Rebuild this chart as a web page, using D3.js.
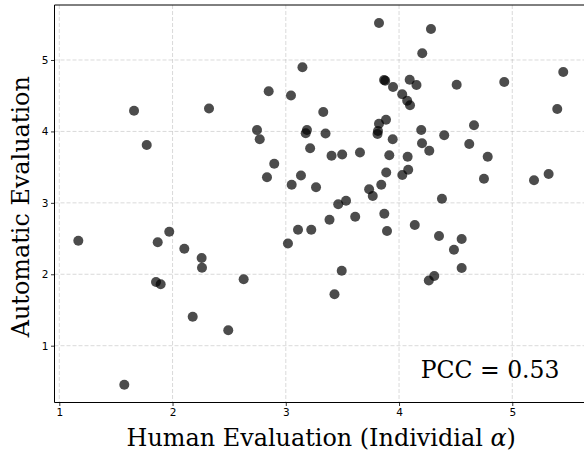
<!DOCTYPE html>
<html><head><meta charset="utf-8">
<script src="https://cdn.jsdelivr.net/npm/d3@7"></script>
<style>body{margin:0;background:#fff}svg{display:block}</style>
</head><body>
<svg id="c" width="584" height="452"></svg>
<script>
const humanEval = [1.66,1.772,2.322,2.849,3.046,2.746,2.77,2.898,2.834,3.052,3.147,3.823,4.282,4.205,5.45,3.868,3.878,4.094,4.154,3.947,4.509,4.929,4.028,4.072,4.097,5.397,3.331,3.885,3.823,3.187,3.176,3.351,3.814,3.81,4.196,4.662,3.944,4.399,3.215,4.203,4.62,4.267,3.404,3.498,3.655,3.914,4.076,4.783,3.134,3.267,3.887,4.081,4.029,3.843,3.736,3.768,4.75,5.192,5.321,4.379,3.463,3.532,3.386,3.613,3.87,3.108,3.225,3.894,4.139,3.019,4.353,4.553,4.485,4.553,3.494,3.43,4.311,4.263,1.168,1.869,1.971,2.104,2.257,2.26,1.854,1.895,2.628,2.178,2.492,1.574];
const autoEval = [4.29,3.81,4.32,4.562,4.503,4.02,3.89,3.548,3.358,3.254,4.898,5.518,5.434,5.094,4.832,4.72,4.71,4.723,4.65,4.622,4.654,4.692,4.521,4.43,4.366,4.314,4.272,4.164,4.108,4.02,3.974,3.971,4.006,3.964,4.02,4.086,3.89,3.947,3.765,3.834,3.824,3.729,3.659,3.677,3.705,3.667,3.646,3.646,3.383,3.218,3.425,3.463,3.389,3.254,3.19,3.096,3.338,3.316,3.404,3.057,2.981,3.03,2.763,2.805,2.847,2.624,2.623,2.606,2.69,2.431,2.536,2.494,2.344,2.088,2.049,1.721,1.976,1.913,2.47,2.448,2.596,2.358,2.228,2.092,1.892,1.86,1.93,1.406,1.216,0.454];
const xTicks = [1,2,3,4,5];
const yTicks = [1,2,3,4,5];
const xLabel = "Human Evaluation (Individial ";
const xLabelSym = "α";
const yLabel = "Automatic Evaluation";
const annotation = "PCC = 0.53";

const svg = d3.select("#c");
const L = 54.5, T = 5, R = 586, B = 402.5;
const x = d3.scaleLinear().domain([0.9576, 5.651]).range([L, R]);
const y = d3.scaleLinear().domain([0.2048, 5.77]).range([B, T]);

// grid
const g = svg.append("g");
g.selectAll(".gx").data(xTicks).join("line")
  .attr("x1", d => x(d)).attr("x2", d => x(d)).attr("y1", T).attr("y2", B)
  .attr("stroke", "#b0b0b0").attr("stroke-opacity", 0.6).attr("stroke-width", 0.8).attr("stroke-dasharray", "4,2");
g.selectAll(".gy").data(yTicks).join("line")
  .attr("y1", d => y(d)).attr("y2", d => y(d)).attr("x1", L).attr("x2", R)
  .attr("stroke", "#b0b0b0").attr("stroke-opacity", 0.6).attr("stroke-width", 0.8).attr("stroke-dasharray", "4,2");

// points
svg.append("g").selectAll("circle").data(humanEval.map((h, i) => [h, autoEval[i]])).join("circle")
  .attr("cx", d => x(d[0])).attr("cy", d => y(d[1])).attr("r", 5)
  .attr("fill", "#000").attr("fill-opacity", 0.7);

// axes
const xa = svg.append("g").attr("transform", `translate(0,${B})`)
  .call(d3.axisBottom(x).tickValues(xTicks).tickFormat(d3.format("d")).tickSize(3.5).tickSizeOuter(0));
const ya = svg.append("g").attr("transform", `translate(${L},0)`)
  .call(d3.axisLeft(y).tickValues(yTicks).tickFormat(d3.format("d")).tickSize(3.5).tickSizeOuter(0));
[xa, ya].forEach(a => {
  a.select(".domain").remove();
  a.selectAll("text").attr("font-family", "DejaVu Sans").attr("font-size", 10.5).attr("fill", "#000");
  a.selectAll("line").attr("stroke", "#000").attr("stroke-width", 0.8);
});
xa.selectAll("text").attr("dy", "0.75em").attr("y", 6);
ya.selectAll("text").attr("x", -6);

// spines
svg.append("line").attr("x1", L).attr("x2", L).attr("y1", T).attr("y2", B).attr("stroke", "#000").attr("stroke-width", 1);
svg.append("line").attr("x1", L).attr("x2", R).attr("y1", B).attr("y2", B).attr("stroke", "#000").attr("stroke-width", 1);
svg.append("line").attr("x1", L).attr("x2", R).attr("y1", T).attr("y2", T).attr("stroke", "#000").attr("stroke-width", 1);

// labels
const xl = svg.append("text").attr("x", (L + R) / 2 + 1).attr("y", 445.5).attr("text-anchor", "middle")
  .attr("font-family", "DejaVu Serif").attr("font-size", 23.9).attr("fill", "#000");
xl.append("tspan").text(xLabel);
xl.append("tspan").attr("font-style", "italic").text(xLabelSym);
xl.append("tspan").text(")");

svg.append("text").attr("transform", `translate(29,${(T + B) / 2 + 3}) rotate(-90)`).attr("text-anchor", "middle")
  .attr("font-family", "DejaVu Serif").attr("font-size", 23.9).attr("fill", "#000").text(yLabel);

svg.append("text").attr("x", 559.5).attr("y", 377.7).attr("text-anchor", "end")
  .attr("font-family", "DejaVu Serif").attr("font-size", 23.5).attr("fill", "#000").text(annotation);
</script>
</body></html>
